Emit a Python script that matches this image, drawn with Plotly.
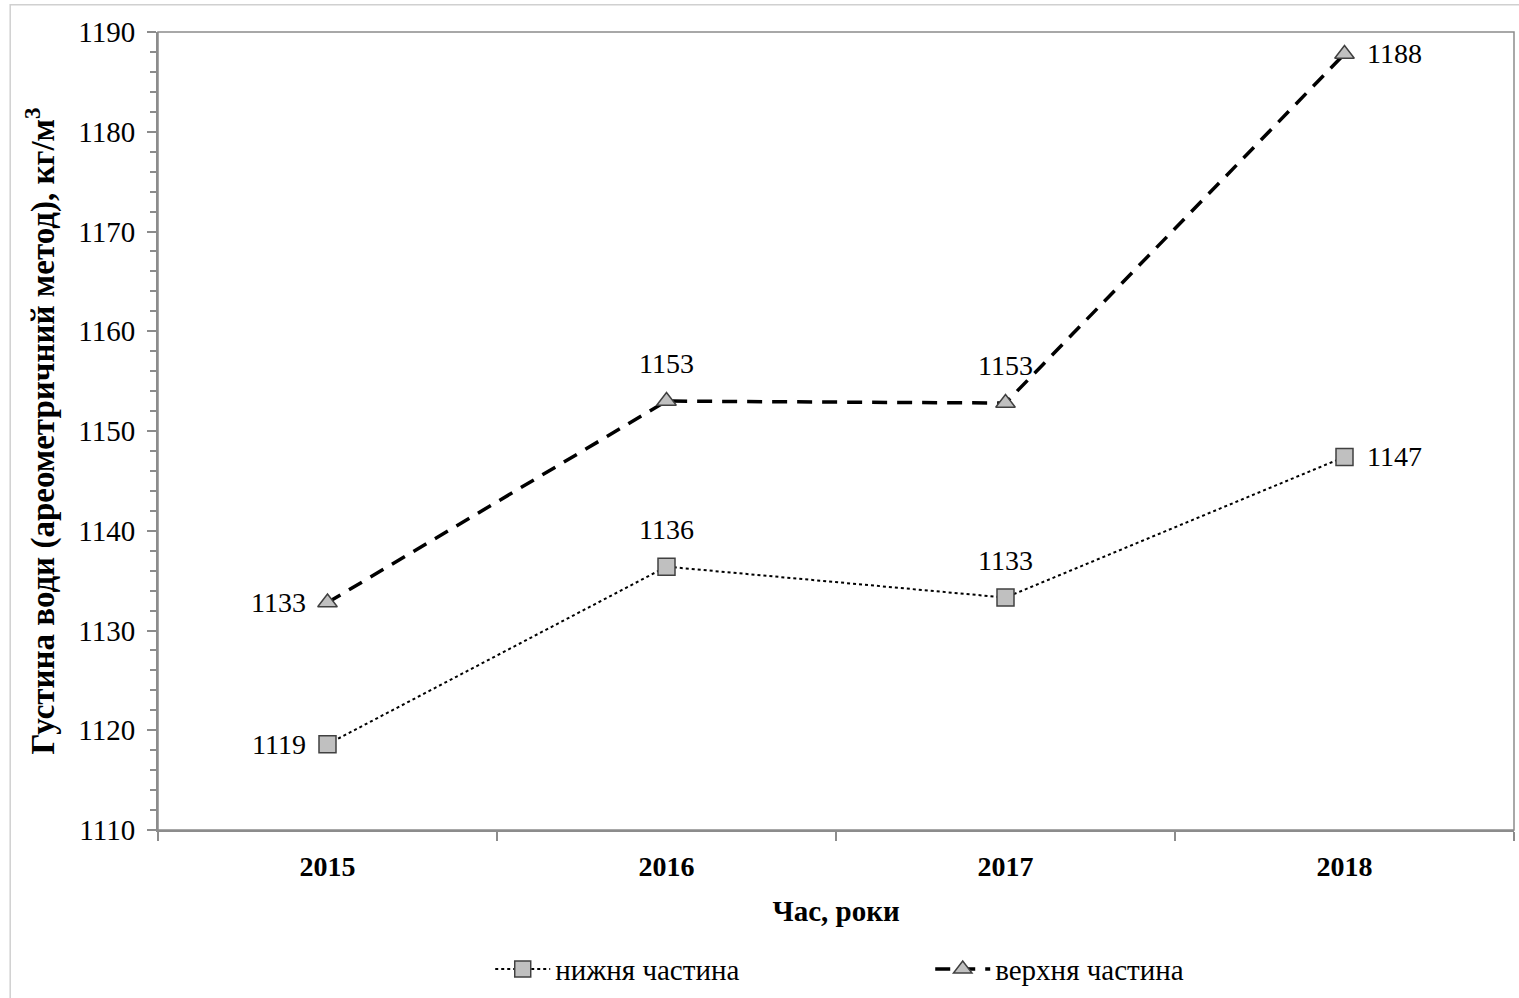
import plotly.graph_objects as go

# Роки спостережень та густина води (ареометричний метод), кг/м³
years = ["2015", "2016", "2017", "2018"]
lower_part = [1118.6, 1136.4, 1133.3, 1147.4]
upper_part = [1132.8, 1153.0, 1152.8, 1187.8]

# Розміщення підписів значень відносно точок: ліворуч, зверху, зверху, праворуч
label_side = ["left", "top", "top", "right"]
serif = "Liberation Serif, Times New Roman, serif"

fig = go.Figure()

fig.add_trace(go.Scatter(
    x=years, y=lower_part, name="нижня частина",
    mode="lines+markers",
    line=dict(color="black", width=2, dash="dot"),
    marker=dict(symbol="square", size=17, color="#c0c0c0",
                line=dict(color="#404040", width=1.5)),
    cliponaxis=False,
))

fig.add_trace(go.Scatter(
    x=years, y=upper_part, name="верхня частина",
    mode="lines+markers",
    line=dict(color="black", width=3.5, dash="15px,10px"),
    marker=dict(symbol="triangle-up", size=17, color="#c0c0c0",
                line=dict(color="#404040", width=1.5)),
    cliponaxis=False,
))

# Підписи значень біля точок (x — індекс категорії)
for series in (lower_part, upper_part):
    for idx, (val, side) in enumerate(zip(series, label_side)):
        ann = dict(x=idx, y=val, xref="x", yref="y", text=f"{val:.0f}",
                   showarrow=False, font=dict(family=serif, size=28, color="black"))
        if side == "left":
            ann.update(xanchor="right", yanchor="middle", xshift=-20)
        elif side == "right":
            ann.update(xanchor="left", yanchor="middle", xshift=20)
        else:
            ann.update(xanchor="center", yanchor="bottom", yshift=20)
        fig.add_annotation(**ann)

fig.update_layout(
    width=1519, height=998,
    margin=dict(l=158, r=5, t=32, b=168, autoexpand=False),
    paper_bgcolor="white", plot_bgcolor="white",
    font=dict(family=serif, size=28, color="black"),
    showlegend=True,
    legend=dict(orientation="h", x=0.245, xanchor="left", y=-0.1425, yanchor="top",
                font=dict(family=serif, size=29), itemwidth=55,
                entrywidth=370, bgcolor="rgba(0,0,0,0)"),
    xaxis=dict(
        type="category", tickson="boundaries", range=[-0.5, 3.5], automargin=False,
        showline=True, linecolor="#8c8c8c", linewidth=2,
        ticks="outside", ticklen=9, tickcolor="#8c8c8c", tickwidth=1.5,
        ticklabelstandoff=10,
        showgrid=False, zeroline=False,
        tickfont=dict(family=serif, size=28, color="black", weight="bold"),
        title=dict(text="<b>Час, роки</b>", font=dict(family=serif, size=29), standoff=20),
    ),
    yaxis=dict(
        range=[1110, 1190], dtick=10, automargin=False,
        showline=True, linecolor="#8c8c8c", linewidth=2,
        ticks="outside", ticklen=9, tickcolor="#8c8c8c", tickwidth=1.5,
        minor=dict(dtick=2, ticks="outside", ticklen=6, tickcolor="#8c8c8c", tickwidth=1.5),
        ticklabelstandoff=6,
        showgrid=False, zeroline=False,
        tickfont=dict(family=serif, size=29, color="black"),
        title=dict(text="<b>Густина води (ареометричний метод), кг/м<sup>3</sup></b>",
                   font=dict(family=serif, size=33), standoff=14),
    ),
)

# Рамка області побудови (верхня та права сторони)
fig.add_shape(type="rect", xref="paper", yref="paper", x0=0, y0=0, x1=1, y1=1,
              line=dict(color="#8c8c8c", width=1.5), layer="below")
# Зовнішня рамка діаграми
fig.add_shape(type="rect", xref="paper", yref="paper",
              x0=-0.109, y0=-0.215, x1=1.01, y1=1.034,
              line=dict(color="#d0d0d0", width=1.5))

fig.write_html("out.html")
